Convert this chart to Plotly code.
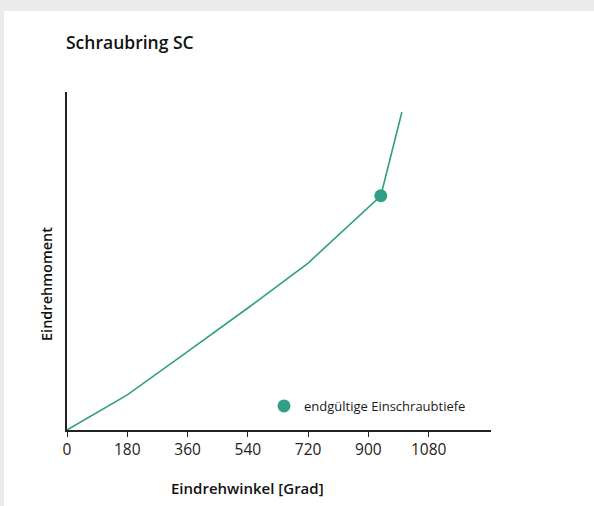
import plotly.graph_objects as go

# Data (y in relative units 0-100)
angle = [0, 180, 360, 540, 720, 937, 1000]
torque = [0, 10.4, 23.2, 36.1, 49.4, 69.3, 94.1]
final_angle = [937]
final_torque = [69.3]
x_ticks = [0, 180, 360, 540, 720, 900, 1080]

GREEN = "#2f9f86"
FONT = "Open Sans"

W, H = 594, 506
L, R, T, B = 67, 103, 92, 76
pw, ph = W - L - R, H - T - B

def px_x(px):
    return (px - L) / pw

def px_y(py):
    return (H - B - py) / ph

fig = go.Figure()
fig.add_trace(go.Scatter(x=angle, y=torque, mode="lines",
                         line=dict(color=GREEN, width=1.6),
                         showlegend=False, hoverinfo="skip"))
fig.add_trace(go.Scatter(x=final_angle, y=final_torque, mode="markers",
                         marker=dict(color=GREEN, size=13),
                         name="endgültige Einschraubtiefe", showlegend=True))

fig.update_layout(
    width=W, height=H,
    margin=dict(l=L, r=R, t=T, b=B),
    paper_bgcolor="#ebebeb",
    plot_bgcolor="rgba(0,0,0,0)",
    font=dict(family=FONT, color="#1a1a1a", size=13),
    shapes=[dict(type="rect", xref="paper", yref="paper", layer="below",
                 x0=px_x(4), x1=px_x(W + 5), y0=px_y(11), y1=px_y(H + 5),
                 fillcolor="white", line=dict(width=0))],
    xaxis=dict(range=[0, 1266], tickvals=x_ticks, ticktext=[str(v) for v in x_ticks],
               showline=True, linecolor="#222", linewidth=1.5,
               ticks="outside", ticklen=5, tickcolor="#222", tickwidth=1,
               showgrid=False, zeroline=False,
               tickfont=dict(size=15.5, color="#222")),
    yaxis=dict(range=[0, 100], showline=True, linecolor="#222", linewidth=1.5,
               showticklabels=False, ticks="", showgrid=False, zeroline=False),
    legend=dict(x=px_x(264), y=px_y(406), xanchor="left", yanchor="middle",
                bgcolor="rgba(0,0,0,0)", font=dict(size=13, color="#1a1a1a", weight=500),
                itemwidth=30, itemsizing="trace"),
    annotations=[
        dict(text="Schraubring SC", x=px_x(64), y=px_y(42), xref="paper", yref="paper",
             xanchor="left", yanchor="middle", showarrow=False,
             font=dict(size=17.5, color="#111", weight=600)),
        dict(text="Eindrehwinkel [Grad]", x=px_x(247), y=px_y(488), xref="paper", yref="paper",
             xanchor="center", yanchor="middle", showarrow=False,
             font=dict(size=15, color="#111", weight=600)),
        dict(text="Eindrehmoment", x=px_x(46), y=px_y(284), xref="paper", yref="paper",
             xanchor="center", yanchor="middle", showarrow=False, textangle=-90,
             font=dict(size=14.5, color="#111", weight=600)),
    ],
)

fig.write_html("out.html", config={"displayModeBar": False},
               post_script="document.body.style.margin='0';document.body.style.overflow='hidden';")
